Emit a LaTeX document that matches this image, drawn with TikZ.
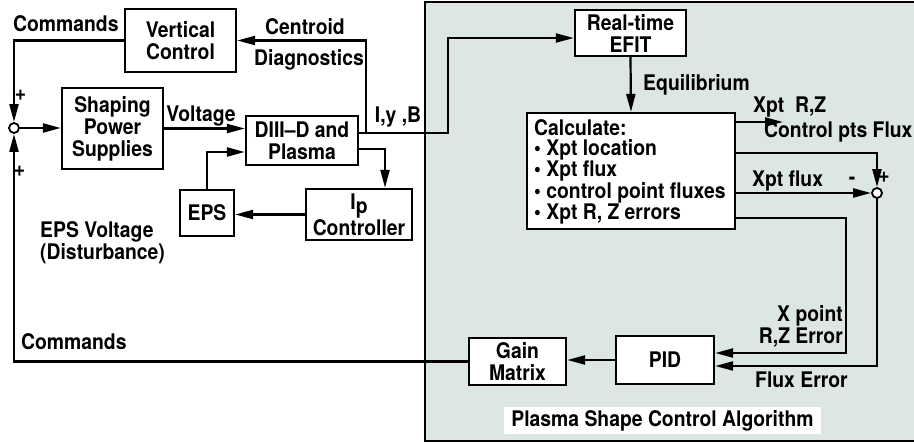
\documentclass[tikz,border=0pt]{standalone}
\usepackage{fontspec}
\setmainfont[FakeStretch=0.9]{TeX Gyre Heros}
\usetikzlibrary{arrows.meta}
\definecolor{panel}{RGB}{220,230,228}
\begin{document}
\begin{tikzpicture}[x=1pt,y=-1pt,
  every node/.style={font=\fontsize{21.5}{22}\selectfont\bfseries},
  box/.style={draw, line width=2.3pt, fill=white, align=center, inner sep=0pt},
  sumnode/.style={circle, draw, line width=1.8pt, fill=white, minimum size=10pt, inner sep=0pt},
  ln/.style={line width=2.3pt},
  arr/.style={line width=2.2pt, -{Triangle[length=18pt,width=9pt]}}]
\useasboundingbox (0,0) rectangle (914,444);
\fill[white] (0,0) rectangle (914,444);
\draw[ln, fill=panel] (425,2) rectangle (920,441);

% boxes
\node[box, minimum width=111pt, minimum height=63pt] (vc) at (180.5,40.5) {Vertical\\Control};
\node[box, minimum width=101pt, minimum height=81pt] (sps) at (112.5,128.5) {Shaping\\Power\\Supplies};
\node[box, minimum width=112pt, minimum height=49pt] (dd) at (302,140.5) {DIII--D and\\Plasma};
\node[box, minimum width=106pt, minimum height=51pt] (ipc) at (359,214.5) {I\raisebox{-0.4ex}{p}\\Controller};
\node[box, minimum width=54pt, minimum height=46pt] (eps) at (207,213) {EPS};
\node[box, minimum width=111pt, minimum height=46pt] (efit) at (630.5,33) {Real-time\\EFIT};
\node[box, minimum width=208pt, minimum height=116pt] (calc) at (631,171) {};
\node[anchor=north west, align=left, inner sep=0pt, font=\fontsize{21.5}{20}\selectfont\bfseries] (calctxt) at (534,119)
  {Calculate:\\\textbullet\ Xpt location\\\textbullet\ Xpt flux\\\textbullet\ control point fluxes\\\textbullet\ Xpt R, Z errors};
\node[box, minimum width=98pt, minimum height=48pt] (pid) at (665,360) {PID};
\node[box, minimum width=97pt, minimum height=47pt] (gain) at (517.5,361.5) {Gain\\Matrix};
\node[sumnode] (s1) at (14,128) {};
\node[sumnode] (s2) at (877,193) {};

% panel title
\node[fill=white, inner sep=0pt, minimum width=317pt, minimum height=27pt] (title) at (662.5,420.5) {Plasma Shape Control Algorithm};

% connectors
\draw[arr] (vc.west) -| (s1.north);
\draw[arr] (gain.west) -| (s1.south);
\draw[arr] (s1.east) -- (sps.west |- s1.east);
\draw[arr] (sps.east) -- (dd.west |- sps.east);
\draw[arr] (dd.east |- 0,133) -- (448,133) |- (efit.west |- 0,38);
\draw[arr] (366,133) |- (vc.east);
\draw[arr] (dd.east |- 0,149) -| (ipc.north -| 385,0);
\draw[arr] (ipc.west) -- (eps.east |- ipc.west);
\draw[arr] (eps.north) |- (dd.west |- 0,152);
\draw[arr] (efit.south) -- (calc.north);
\coordinate (xptend) at (783,122);
\draw[arr] (calc.east |- 0,122) -- (xptend);
\draw[arr] (calc.east |- 0,153) -| (s2.north);
\draw[arr] (calc.east |- s2.west) -- (s2.west);
\draw[arr] (calc.east |- 0,218) -- (846,218) |- (pid.east |- 0,353);
\draw[arr] (s2.south) |- (pid.east |- 0,366);
\draw[arr] (pid.west) -- (gain.east |- pid.west);

% labels
\node[anchor=west, inner sep=0pt] (lcmd1) at (13,24) {Commands};
\node[anchor=west, inner sep=0pt] (lcmd2) at (21,342) {Commands};
\node[inner sep=0pt] (lp1) at (20.5,95) {+};
\node[inner sep=0pt] (lp2) at (19.5,171) {+};
\node[inner sep=0pt] (lcen) at (305,27) {Centroid};
\node[inner sep=0pt] (ldiag) at (309,60) {Diagnostics};
\node[inner sep=0pt] (lvolt) at (201,116) {Voltage};
\node[inner sep=0pt] (liyb) at (398,117) {I,y ,B};
\node[anchor=north west, align=left, inner sep=0pt] (leps) at (40,221) {EPS Voltage\\(Disturbance)};
\node[anchor=west, inner sep=0pt] (leq) at (643,85) {Equilibrium};
\node[anchor=west, inner sep=0pt] (lxrz) at (753,107) {Xpt\ \ R,Z};
\node[anchor=west, inner sep=0pt] (lcpf) at (764,132) {Control pts Flux};
\node[anchor=west, inner sep=0pt] (lxf) at (752,181) {Xpt flux};
\node[inner sep=0pt] (lminus) at (852,181) {-};
\node[inner sep=0pt] (lp3) at (884,177) {+};
\node[anchor=east, align=right, inner sep=0pt] (lxpe) at (843,326) {X point\\R,Z Error};
\node[anchor=west, inner sep=0pt] (lfe) at (755,380) {Flux Error};
\end{tikzpicture}
\end{document}
